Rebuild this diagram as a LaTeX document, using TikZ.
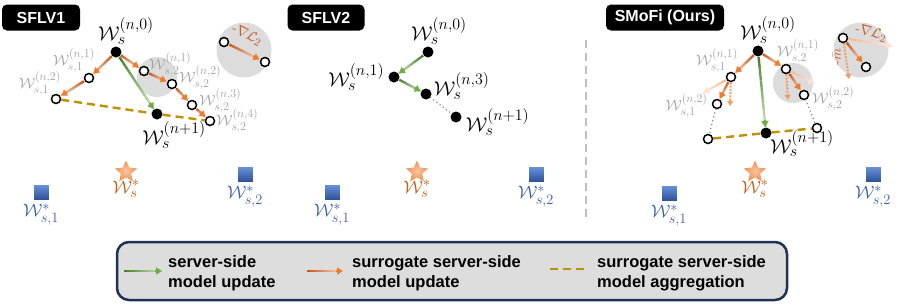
\RequirePackage{fix-cm}
\documentclass[tikz,border=0pt]{standalone}
\usepackage{amsmath}
\usepackage{fontspec}
\setsansfont{Liberation Sans}
\usepackage{tikz}
\usetikzlibrary{arrows.meta,positioning,calc,shapes.geometric}
\renewcommand{\defaultscriptratio}{.8}

\definecolor{odark}{HTML}{C8561A}
\definecolor{olight}{HTML}{F9D3B9}
\definecolor{otip}{HTML}{EE7D31}
\definecolor{ofade}{HTML}{F5B58A}
\definecolor{ofadelight}{HTML}{FDEEE3}
\definecolor{gdark}{HTML}{4E7F2C}
\definecolor{glight}{HTML}{C9E3B8}
\definecolor{gtip}{HTML}{70AD47}
\definecolor{aggold}{HTML}{BF9000}
\definecolor{legnavy}{HTML}{1F3255}
\definecolor{legfill}{HTML}{DDDDDD}
\definecolor{bubblegray}{HTML}{DCDCDC}
\definecolor{wgray}{HTML}{A0A0A0}
\definecolor{wblue}{HTML}{3A5FA6}
\definecolor{sqtop}{HTML}{6C95DD}
\definecolor{sqbot}{HTML}{2C4F95}
\definecolor{worange}{HTML}{C55A11}

% gradient arrow: from, to, start colour, end colour, tip colour
\newcommand{\gradarrow}[6][2.4pt]{%
  \coordinate (ga) at ($(#2)!6pt!(#3)$);
  \coordinate (gb) at ($(#3)!6pt!(#2)$);
  \foreach \k in {0,...,11}{%
    \pgfmathtruncatemacro{\gpct}{100-\k*100/11}%
    \draw[line width=#1, #4!\gpct!#5] ($(ga)!\k/12!(gb)$) -- ($(ga)!\k/12+1/12!(gb)$);
  }%
  \draw[-{Triangle[length=6pt,width=7pt]}, line width=#1, #6] ($(gb)!7pt!(ga)$) -- (gb);
}

\begin{document}
\begin{tikzpicture}[
    x=1pt, y=-1pt,
    wfull/.style={circle, fill=black, inner sep=0pt, minimum size=11pt},
    wopen/.style={circle, draw=black, line width=1.5pt, fill=white, inner sep=0pt, minimum size=9pt},
    blab/.style={inner sep=0pt, font=\fontsize{20}{22}\selectfont},
    glab/.style={inner sep=0pt, text=wgray, font=\fontsize{15}{17}\selectfont},
    olab/.style={inner sep=0pt, text=odark, font=\fontsize{14}{16}\selectfont},
    tagbox/.style={rectangle, rounded corners=5pt, fill=black, text=white, font=\sffamily\bfseries\fontsize{16}{18}\selectfont, minimum height=26pt, inner sep=0pt},
    bubble/.style={circle, fill=bubblegray, inner sep=0pt},
    agg/.style={aggold, line width=2.4pt, dash pattern=on 8pt off 5pt},
    dotline/.style={gray, line width=1.6pt, line cap=round, dash pattern=on 0pt off 4pt},
    mom/.style={-{Triangle[length=5pt,width=6pt]}, line width=2pt, otip!75, dash pattern=on 2pt off 1.3pt},
    divider/.style={black!25, line width=2.5pt, dash pattern=on 8pt off 5pt},
    optw/.style={rectangle, inner sep=0pt, minimum size=16pt, top color=sqtop, bottom color=sqbot, draw=white, line width=0.4pt},
    optg/.style={star, star points=5, star point ratio=2.1, minimum size=23pt, inner sep=0pt, inner color=otip!45, outer color=otip!85},
    optlab/.style={inner sep=0pt, font=\fontsize{18}{20}\selectfont},
    legbox/.style={rectangle, rounded corners=12pt, draw=legnavy, line width=2.5pt, fill=legfill, minimum width=670pt, minimum height=58pt},
    legtext/.style={anchor=west, align=left, inner sep=0pt, font=\sffamily\bfseries\fontsize{16.5}{20}\selectfont}
]
    \useasboundingbox (0,0) rectangle (897,306);

    % SFLV1
    \node[tagbox, minimum width=78pt] (t1) at (41,17.5) {SFLV1};
    \node[bubble, minimum size=40pt] (bb1) at (157,77) {};
    \node[bubble, minimum size=55pt] (bb2) at (244,50) {};

    \node[wfull] (a0) at (116,52) {};
    \node[wopen] (a11) at (89,78) {};
    \node[wopen] (a12) at (56,99) {};
    \node[wopen] (a21) at (144,71) {};
    \node[wopen] (a22) at (172,84) {};
    \node[wopen] (a23) at (192,105) {};
    \node[wopen] (a24) at (210,121) {};
    \node[wfull] (a1) at (157,114) {};
    \node[wopen] (ai) at (224,42) {};
    \node[wopen] (ao) at (265,62) {};

    \node[blab, above=2pt of a0, xshift=10pt] (la0) {$\mathcal{W}_s^{(n,0)}$};
    \node[glab, above=0pt of a11, xshift=-15pt] (la11) {$\mathcal{W}_{s,1}^{(n,1)}$};
    \node[glab, above=-2pt of a12, xshift=-16pt] (la12) {$\mathcal{W}_{s,1}^{(n,2)}$};
    \node[glab, right=0pt of a21, yshift=6pt] (la21) {$\mathcal{W}_{s,2}^{(n,1)}$};
    \node[glab, right=2pt of a22, yshift=6pt] (la22) {$\mathcal{W}_{s,2}^{(n,2)}$};
    \node[glab, right=2pt of a23, yshift=4pt] (la23) {$\mathcal{W}_{s,2}^{(n,3)}$};
    \node[glab, right=1pt of a24] (la24) {$\mathcal{W}_{s,2}^{(n,4)}$};
    \node[blab, below=2pt of a1, xshift=17pt] (la1) {$\mathcal{W}_s^{(n+1)}$};
    \node[olab, rotate=-26] (lai) at (247,35) {$\text{-}\nabla\mathcal{L}_2$};

    \draw[agg] (a12) -- (a1) -- (a24);
    \gradarrow{a0}{a11}{odark}{olight}{otip}
    \gradarrow{a11}{a12}{odark}{olight}{otip}
    \gradarrow{a0}{a21}{odark}{olight}{otip}
    \gradarrow{a21}{a22}{odark}{olight}{otip}
    \gradarrow{a22}{a23}{odark}{olight}{otip}
    \gradarrow{a23}{a24}{odark}{olight}{otip}
    \gradarrow{a0}{a1}{gdark}{glight}{gtip}
    \gradarrow{ai}{ao}{odark}{olight}{otip}

    \node[optw] (q11) at (41,192) {};
    \node[optg] (q1) at (126,172) {};
    \node[optw] (q12) at (245,174) {};
    \node[optlab, text=wblue, below=3pt of q11] (lq11) {$\mathcal{W}_{s,1}^*$};
    \node[optlab, text=worange, below=2pt of q1] (lq1) {$\mathcal{W}_s^*$};
    \node[optlab, text=wblue, below=3pt of q12] (lq12) {$\mathcal{W}_{s,2}^*$};

    % SFLV2
    \node[tagbox, minimum width=77pt] (t2) at (326,17.5) {SFLV2};
    \node[wfull] (b0) at (428,52) {};
    \node[wfull] (b1) at (394,77) {};
    \node[wfull] (b3) at (426,94) {};
    \node[wfull] (bn) at (456,117) {};

    \node[blab, above=2pt of b0, xshift=11pt] (lb0) {$\mathcal{W}_s^{(n,0)}$};
    \node[blab, left=4pt of b1] (lb1) {$\mathcal{W}_s^{(n,1)}$};
    \node[blab, right=2pt of b3, yshift=8pt] (lb3) {$\mathcal{W}_s^{(n,3)}$};
    \node[blab, right=4pt of bn, yshift=-5pt] (lbn) {$\mathcal{W}_s^{(n+1)}$};

    \gradarrow{b0}{b1}{gdark}{glight}{gtip}
    \gradarrow{b1}{b3}{gdark}{glight}{gtip}
    \draw[dotline] (b3) -- (bn);

    \node[optw] (q21) at (332,192) {};
    \node[optg] (q2) at (417,172) {};
    \node[optw] (q22) at (536,174) {};
    \node[optlab, text=wblue, below=3pt of q21] (lq21) {$\mathcal{W}_{s,1}^*$};
    \node[optlab, text=worange, below=2pt of q2] (lq2) {$\mathcal{W}_s^*$};
    \node[optlab, text=wblue, below=3pt of q22] (lq22) {$\mathcal{W}_{s,2}^*$};

    \coordinate (d1) at (586,40);
    \coordinate (d2) at (586,222);
    \draw[divider] (d1) -- (d2);

    % SMoFi
    \node[tagbox, minimum width=118pt] (t3) at (665,17.5) {SMoFi (Ours)};
    \node[bubble, minimum size=40pt] (bb3) at (793,83) {};
    \node[bubble, minimum size=55pt] (bb4) at (861,50) {};

    \node[wfull] (c0) at (758,51) {};
    \node[wopen] (c11) at (731,77) {};
    \node[wopen] (c12) at (717,104) {};
    \node[wopen] (c1e) at (708,139) {};
    \node[wopen] (c21) at (786,69) {};
    \node[wopen] (c22) at (804,95) {};
    \node[wopen] (c2e) at (817,128) {};
    \node[wfull] (cn) at (766,133) {};
    \node[wopen] (ci) at (843,38) {};
    \node[wopen] (co) at (866,67) {};
    \coordinate (c11g) at (698,96);
    \coordinate (c11m) at (730,106);
    \coordinate (c21g) at (820,86);
    \coordinate (c21m) at (788,100);
    \coordinate (cig) at (898,47);
    \coordinate (cim) at (849,79);

    \node[blab, above=2pt of c0, xshift=10pt] (lc0) {$\mathcal{W}_s^{(n,0)}$};
    \node[glab, above=-1pt of c11, xshift=-14pt] (lc11) {$\mathcal{W}_{s,1}^{(n,1)}$};
    \node[glab, left=4pt of c12, yshift=-2pt] (lc12) {$\mathcal{W}_{s,1}^{(n,2)}$};
    \node[glab, above=0pt of c21, xshift=12pt] (lc21) {$\mathcal{W}_{s,2}^{(n,1)}$};
    \node[glab, right=3pt of c22, yshift=-4pt] (lc22) {$\mathcal{W}_{s,2}^{(n,2)}$};
    \node[blab, below right=-7pt and 0pt of cn] (lcn) {$\mathcal{W}_s^{(n+1)}$};
    \node[olab, rotate=-15] (lci) at (871,33) {$\text{-}\nabla\mathcal{L}_2$};
    \node[olab, rotate=90] (lcm) at (837,57) {$\text{-}\bar{m}$};

    \draw[agg] (c1e) -- (cn) -- (c2e);
    \draw[dotline] (c12) -- (c1e);
    \draw[dotline] (c22) -- (c2e);
    \gradarrow[2pt]{c11}{c11g}{ofade}{ofadelight}{ofadelight!80!ofade}
    \gradarrow[2pt]{c21}{c21g}{ofade}{ofadelight}{ofadelight!80!ofade}
    \gradarrow[2pt]{ci}{cig}{ofade}{ofadelight}{ofadelight!80!ofade}
    \draw[mom] (c11) -- (c11m);
    \draw[mom] (c21) -- (c21m);
    \draw[mom] (ci) -- (cim);
    \gradarrow{c0}{c11}{odark}{olight}{otip}
    \gradarrow{c0}{c21}{odark}{olight}{otip}
    \gradarrow{c11}{c12}{odark}{olight}{otip}
    \gradarrow{c21}{c22}{odark}{olight}{otip}
    \gradarrow{ci}{co}{odark}{olight}{otip}
    \gradarrow{c0}{cn}{gdark}{glight}{gtip}

    \node[optw] (q31) at (669,193) {};
    \node[optg] (q3) at (755,172) {};
    \node[optw] (q32) at (873,174) {};
    \node[optlab, text=wblue, below=3pt of q31] (lq31) {$\mathcal{W}_{s,1}^*$};
    \node[optlab, text=worange, below=2pt of q3] (lq3) {$\mathcal{W}_s^*$};
    \node[optlab, text=wblue, below=3pt of q32] (lq32) {$\mathcal{W}_{s,2}^*$};

    % Legend
    \node[legbox] (leg) at (452,271) {};
    \coordinate (lg1a) at (118,271);
    \coordinate (lg1b) at (168,271);
    \coordinate (lg2a) at (301,271);
    \coordinate (lg2b) at (349,271);
    \coordinate (lg3a) at (550,269);
    \coordinate (lg3b) at (584,269);
    \gradarrow{lg1a}{lg1b}{gdark}{glight}{gtip}
    \node[legtext] (lt1) at (168,273) {server-side\\model update};
    \gradarrow{lg2a}{lg2b}{odark}{olight}{otip}
    \node[legtext] (lt2) at (352,273) {surrogate server-side\\model update};
    \draw[agg] (lg3a) -- (lg3b);
    \node[legtext] (lt3) at (597,273) {surrogate server-side\\model aggregation};
\end{tikzpicture}
\end{document}
